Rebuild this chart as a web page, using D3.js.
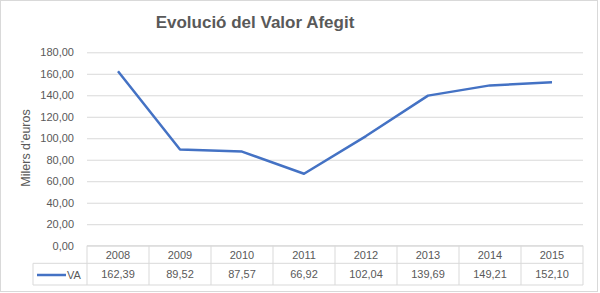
<!DOCTYPE html>
<html>
<head>
<meta charset="utf-8">
<script src="https://cdn.jsdelivr.net/npm/d3@7"></script>
<style>
  body { margin:0; background:#fff; }
  svg text { font-family: "Liberation Sans", Arial, sans-serif; fill:#595959; }
</style>
</head>
<body>
<svg id="chart" width="600" height="293"></svg>
<script>
const years   = ['2008','2009','2010','2011','2012','2013','2014','2015'];
const vaVals  = [162.39, 89.52, 87.57, 66.92, 102.04, 139.69, 149.21, 152.10];
const yTicks  = [0, 20, 40, 60, 80, 100, 120, 140, 160, 180];
const seriesName = 'VA';
const chartTitle = 'Evolució del Valor Afegit';
const yTitle = "Milers d'euros";

const locale = d3.formatLocale({decimal:',', thousands:'.', grouping:[3], currency:['','€']});
const fmt = locale.format('.2f');

const svg = d3.select('#chart');
const grid = '#d9d9d9';
const lineColor = '#4472c4';

// outer frame
svg.append('rect')
  .attr('x',0.5).attr('y',0.5).attr('width',597).attr('height',291)
  .attr('fill','#fff').attr('stroke',grid);

const x = d3.scaleBand().domain(years).range([87,583]);
const y = d3.scaleLinear().domain([0,180]).range([245.7,52.3]);

// gridlines + y labels
const yAxis = svg.append('g')
  .attr('transform','translate(87,0)')
  .call(d3.axisLeft(y).tickValues(yTicks).tickFormat(fmt).tickSize(-496).tickPadding(13));
yAxis.select('.domain').remove();
yAxis.selectAll('.tick line').attr('stroke',grid).attr('stroke-width',1);
yAxis.selectAll('.tick text').attr('font-size',11).attr('fill','#595959')
  .attr('font-family','"Liberation Sans", Arial, sans-serif');

// title
svg.append('text')
  .attr('x',255).attr('y',28)
  .attr('text-anchor','middle')
  .attr('font-size',17).attr('font-weight','bold')
  .text(chartTitle);

// y axis title
svg.append('text')
  .attr('transform','translate(29.5,148) rotate(-90)')
  .attr('text-anchor','middle')
  .attr('font-size',12.5)
  .text(yTitle);

// line
const line = d3.line()
  .x((d,i)=>x(years[i]) + x.bandwidth()/2)
  .y(d=>y(d));
svg.append('path')
  .datum(vaVals)
  .attr('d',line)
  .attr('fill','none')
  .attr('stroke',lineColor)
  .attr('stroke-width',2.5)
  .attr('stroke-linejoin','round');

// data table
const tTop = y(0), tMid = 263.3, tBot = 285, tLeft = 33;
const xEnd = x.range()[1];
const tbl = svg.append('g').attr('stroke',grid).attr('stroke-width',1).attr('fill','none');
tbl.append('line').attr('x1',87).attr('x2',xEnd).attr('y1',tTop).attr('y2',tTop);
tbl.append('line').attr('x1',tLeft).attr('x2',xEnd).attr('y1',tMid).attr('y2',tMid);
tbl.append('line').attr('x1',tLeft).attr('x2',xEnd).attr('y1',tBot).attr('y2',tBot);
tbl.append('line').attr('x1',tLeft).attr('x2',tLeft).attr('y1',tMid).attr('y2',tBot);
tbl.selectAll('.vl').data(years.map(d=>x(d)).concat([xEnd])).join('line')
  .attr('x1',d=>d).attr('x2',d=>d)
  .attr('y1',tTop).attr('y2',tBot);

svg.selectAll('.yr').data(years).join('text')
  .attr('x',d=>x(d)+x.bandwidth()/2)
  .attr('y',(tTop+tMid)/2 + 4)
  .attr('text-anchor','middle')
  .attr('font-size',11)
  .text(d=>d);

svg.selectAll('.val').data(vaVals).join('text')
  .attr('x',(d,i)=>x(years[i])+x.bandwidth()/2)
  .attr('y',(tMid+tBot)/2 + 4)
  .attr('text-anchor','middle')
  .attr('font-size',11)
  .text(d=>fmt(d));

// legend key
svg.append('line')
  .attr('x1',37).attr('x2',66).attr('y1',275).attr('y2',275)
  .attr('stroke',lineColor).attr('stroke-width',2.5);
svg.append('text')
  .attr('x',67).attr('y',279)
  .attr('font-size',11)
  .text(seriesName);
</script>
</body>
</html>
